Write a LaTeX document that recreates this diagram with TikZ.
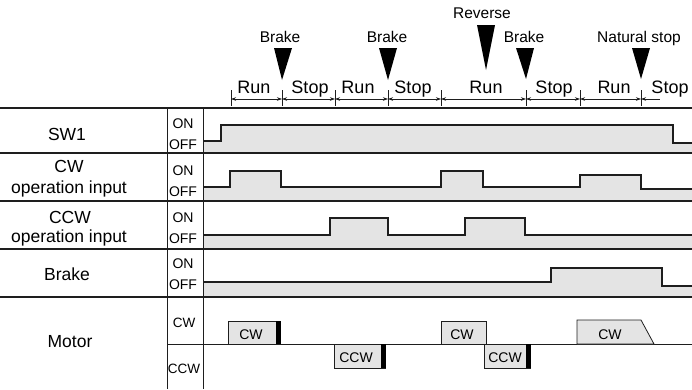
\documentclass[tikz,border=0pt]{standalone}
\usepackage{fontspec}
\setmainfont{Liberation Sans}
\usetikzlibrary{arrows.meta}
\definecolor{sig}{HTML}{E4E4E4}
\definecolor{ink}{HTML}{1E1E1E}
\tikzset{
  toplbl/.style={font=\fontsize{15.5}{15.5}\selectfont, inner sep=0pt, anchor=base},
  seglbl/.style={font=\fontsize{18}{18}\selectfont, inner sep=0pt, anchor=base},
  rowlbl/.style={font=\fontsize{17.5}{17.5}\selectfont, inner sep=0pt, anchor=base},
  onoff/.style={font=\fontsize{14}{14}\selectfont, inner sep=0pt, anchor=base},
  collbl/.style={font=\fontsize{13.5}{13.5}\selectfont, inner sep=0pt, anchor=base},
  boxlbl/.style={font=\fontsize{14}{14}\selectfont, inner sep=0pt, anchor=base},
  marker/.style={fill=black, draw=none},
  sigline/.style={draw=ink, line width=1.4pt, line join=miter},
  sigfill/.style={fill=sig, draw=none},
  gridline/.style={draw=ink, line width=1.5pt},
  vline/.style={draw=ink, line width=1pt},
  tickline/.style={draw=ink, line width=0.6pt},
  dimline/.style={draw=ink, line width=0.6pt, {Stealth[length=5pt,width=3.5pt]}-{Stealth[length=5pt,width=3.5pt]}},
  dimopen/.style={draw=ink, line width=0.6pt, {Stealth[length=5pt,width=3.5pt]}-},
  mbox/.style={fill=sig, draw=ink, line width=0.8pt},
  mbar/.style={fill=black, draw=none},
}
\begin{document}
\begin{tikzpicture}[x=1pt,y=-1pt]
\useasboundingbox (0,0) rectangle (692,389);

% ---------- signal fills ----------
\fill[sigfill] (203,153) -- (203,141) -- (221,141) -- (221,125) -- (673,125) -- (673,143) -- (692,143) -- (692,153) -- cycle;
\fill[sigfill] (203,201) -- (203,187) -- (230,187) -- (230,171) -- (281,171) -- (281,187) -- (441,187) -- (441,171) -- (483,171) -- (483,187) -- (580,187) -- (580,175) -- (641,175) -- (641,189) -- (692,189) -- (692,201) -- cycle;
\fill[sigfill] (203,249) -- (203,235) -- (330,235) -- (330,218) -- (388,218) -- (388,235) -- (465,235) -- (465,218) -- (525,218) -- (525,235) -- (692,235) -- (692,249) -- cycle;
\fill[sigfill] (203,297) -- (203,282) -- (551,282) -- (551,268) -- (662,268) -- (662,286) -- (692,286) -- (692,297) -- cycle;

% ---------- signal lines ----------
\draw[sigline] (203,141) -- (221,141) -- (221,125) -- (673,125) -- (673,143) -- (692,143);
\draw[sigline] (203,187) -- (230,187) -- (230,171) -- (281,171) -- (281,187) -- (441,187) -- (441,171) -- (483,171) -- (483,187) -- (580,187) -- (580,175) -- (641,175) -- (641,189) -- (692,189);
\draw[sigline] (203,235) -- (330,235) -- (330,218) -- (388,218) -- (388,235) -- (465,235) -- (465,218) -- (525,218) -- (525,235) -- (692,235);
\draw[sigline] (203,282) -- (551,282) -- (551,268) -- (662,268) -- (662,286) -- (692,286);

% ---------- grid ----------
\foreach \yy in {108,153,201,249,297} \draw[gridline] (0,\yy) -- (692,\yy);
\draw[vline] (167,108) -- (167,389);
\draw[vline] (203,108) -- (203,389);
\draw[vline] (167,344) -- (692,344);

% ---------- row labels ----------
\node[rowlbl] (sw1) at (67,140) {SW1};
\node[rowlbl] (cw) at (69,172.5) {CW};
\node[rowlbl] (cwop) at (69,193.5) {operation input};
\node[rowlbl] (ccw) at (70,223) {CCW};
\node[rowlbl] (ccwop) at (69,242) {operation input};
\node[rowlbl] (brk) at (67,280) {Brake};
\node[rowlbl] (mot) at (70,347) {Motor};

% ---------- ON / OFF ----------
\node[onoff] (on1) at (183,128) {ON};
\node[onoff] (off1) at (183,149) {OFF};
\node[onoff] (on2) at (183,175) {ON};
\node[onoff] (off2) at (183,196) {OFF};
\node[onoff] (on3) at (183,222) {ON};
\node[onoff] (off3) at (183,243) {OFF};
\node[onoff] (on4) at (183,268.5) {ON};
\node[onoff] (off4) at (183,289.5) {OFF};
\node[collbl] (mcw) at (184,327) {CW};
\node[collbl] (mccw) at (184,373) {CCW};

% ---------- motor boxes ----------
\draw[mbox] (228,344) rectangle (280,321);
\fill[mbar] (275.5,321) rectangle (280.5,344.4);
\node[boxlbl] (b1) at (251,339.5) {CW};
\draw[mbox] (334,344) rectangle (385,368);
\fill[mbar] (380.5,343.6) rectangle (385.5,368.4);
\node[boxlbl] (b2) at (356,362.5) {CCW};
\draw[mbox] (441,344) rectangle (486,321);
\node[boxlbl] (b3) at (462,339.5) {CW};
\draw[mbox] (484,344) rectangle (530,368);
\fill[mbar] (525.5,343.6) rectangle (530.5,368.4);
\node[boxlbl] (b4) at (505,362.5) {CCW};
\draw[mbox] (577,344) -- (577,320) -- (641,320) -- (654,344) -- cycle;
\node[boxlbl] (b5) at (610,339.5) {CW};

% ---------- timing dimension ----------
\foreach \n/\xx in {1/231,2/282,3/335,4/388,5/441,6/526,7/580,8/641} {
  \coordinate (t\n) at (\xx,99);
  \draw[tickline] (\xx,90) -- (\xx,106);
}
\coordinate (tend) at (660,99);
\draw[dimline] (t1) -- (t2);
\draw[dimline] (t2) -- (t3);
\draw[dimline] (t3) -- (t4);
\draw[dimline] (t4) -- (t5);
\draw[dimline] (t5) -- (t6);
\draw[dimline] (t6) -- (t7);
\draw[dimline] (t7) -- (t8);
\draw[dimopen] (t8) -- (tend);

\node[seglbl] (r1) at (254,93) {Run};
\node[seglbl] (s1) at (310,93) {Stop};
\node[seglbl] (r2) at (358,93) {Run};
\node[seglbl] (s2) at (413,93) {Stop};
\node[seglbl] (r3) at (486,93) {Run};
\node[seglbl] (s3) at (554,93) {Stop};
\node[seglbl] (r4) at (614,93) {Run};
\node[seglbl] (s4) at (670,93) {Stop};

% ---------- event markers ----------
\fill[marker] (274,48) -- (292,48) -- (282,80) -- cycle;
\fill[marker] (379,48) -- (397,48) -- (388,80) -- cycle;
\fill[marker] (477,25) -- (495,25) -- (486,70) -- cycle;
\fill[marker] (516,48) -- (534,48) -- (526,79) -- cycle;
\fill[marker] (632,48) -- (650,48) -- (641,79) -- cycle;
\node[toplbl] (e1) at (280,42) {Brake};
\node[toplbl] (e2) at (387,42) {Brake};
\node[toplbl] (e3) at (482,18.5) {Reverse};
\node[toplbl] (e4) at (524,42) {Brake};
\node[toplbl] (e5) at (639,42) {Natural stop};
\end{tikzpicture}
\end{document}
